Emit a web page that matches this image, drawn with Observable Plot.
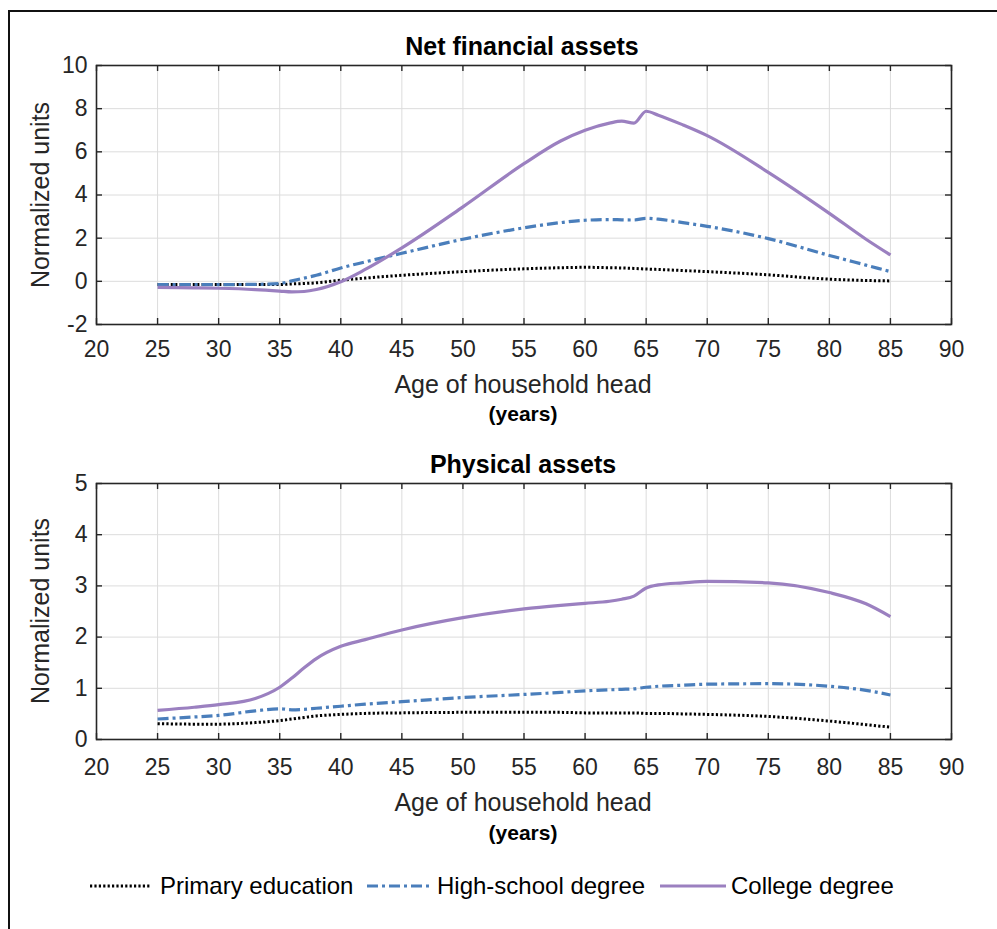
<!DOCTYPE html>
<html>
<head>
<meta charset="utf-8">
<script src="https://cdn.jsdelivr.net/npm/d3@7"></script>
<script src="https://cdn.jsdelivr.net/npm/@observablehq/plot@0.6"></script>
<style>
  body { margin: 0; background: #fff; font-family: "Liberation Sans", Arial, Helvetica, sans-serif; }
  #wrap { position: relative; width: 997px; height: 929px; overflow: hidden; background: #fff; }
  .abs { position: absolute; white-space: nowrap; line-height: 1; }
  .c { transform: translate(-50%, -50%); }
  .title { font-weight: bold; font-size: 25px; color: #000; }
  .xlab { font-size: 25px; color: #262626; }
  .unit { font-weight: bold; font-size: 21px; color: #000; }
  .ylab { font-size: 25px; color: #262626; transform: translate(-50%, -50%) rotate(-90deg); }
  .leg { font-size: 24px; color: #000; transform: translateY(-50%); }
  #border { position: absolute; left: 8px; top: 10px; width: 1000px; height: 1000px; border-left: 2px solid #111; border-top: 2px solid #111; }
  .panel { position: absolute; left: 0; }
</style>
</head>
<body>
<div id="wrap">
  <div id="border"></div>
  <div class="panel" id="p1" style="top:0px"></div>
  <div class="panel" id="p2" style="top:418px"></div>

  <div class="abs c title" style="left:522px; top:46px">Net financial assets</div>
  <div class="abs c xlab" style="left:523px; top:384px">Age of household head</div>
  <div class="abs c unit" style="left:523px; top:413px">(years)</div>
  <div class="abs ylab" style="left:40px; top:195px">Normalized units</div>

  <div class="abs c title" style="left:523px; top:464px">Physical assets</div>
  <div class="abs c xlab" style="left:523px; top:802px">Age of household head</div>
  <div class="abs c unit" style="left:523px; top:832px">(years)</div>
  <div class="abs ylab" style="left:40px; top:611px">Normalized units</div>

  <div id="legend"></div>
</div>
<script>
// ---- data ----
const seriesNames = ["Primary education", "High-school degree", "College degree"];
const ages = [25, 28, 30, 33, 35, 36, 37, 38, 40, 42, 45, 50, 55, 58, 60, 62, 63, 64, 65, 66, 68, 70, 75, 80, 83, 85];

// Net financial assets
const finPrimary = [-0.15, -0.15, -0.15, -0.15, -0.15, -0.12, -0.10, -0.07, 0.05, 0.15, 0.28, 0.45, 0.58, 0.63, 0.65, 0.63, 0.62, 0.60, 0.57, 0.55, 0.50, 0.45, 0.30, 0.10, 0.04, 0.02];
const finHigh    = [-0.15, -0.15, -0.15, -0.14, -0.10, 0.02, 0.15, 0.28, 0.62, 0.90, 1.30, 1.95, 2.48, 2.72, 2.83, 2.86, 2.85, 2.84, 2.92, 2.88, 2.72, 2.55, 1.98, 1.20, 0.75, 0.45];
const finCollege = [-0.28, -0.30, -0.32, -0.38, -0.45, -0.49, -0.47, -0.38, -0.02, 0.55, 1.55, 3.45, 5.45, 6.50, 7.00, 7.33, 7.42, 7.33, 7.88, 7.70, 7.25, 6.75, 5.05, 3.15, 1.95, 1.22];

// Physical assets
const phyPrimary = [0.31, 0.30, 0.30, 0.33, 0.37, 0.40, 0.43, 0.46, 0.49, 0.51, 0.52, 0.53, 0.53, 0.53, 0.52, 0.52, 0.52, 0.52, 0.51, 0.51, 0.50, 0.49, 0.45, 0.36, 0.29, 0.24];
const phyHigh    = [0.40, 0.44, 0.47, 0.56, 0.60, 0.58, 0.59, 0.61, 0.65, 0.69, 0.74, 0.82, 0.88, 0.92, 0.95, 0.97, 0.98, 0.99, 1.02, 1.04, 1.06, 1.08, 1.09, 1.04, 0.96, 0.87];
const phyCollege = [0.57, 0.63, 0.68, 0.80, 1.02, 1.20, 1.40, 1.58, 1.82, 1.95, 2.14, 2.38, 2.55, 2.62, 2.66, 2.70, 2.74, 2.80, 2.96, 3.02, 3.06, 3.09, 3.06, 2.87, 2.65, 2.40];

const xTicks = [20, 25, 30, 35, 40, 45, 50, 55, 60, 65, 70, 75, 80, 85, 90];
const finTicks = [-2, 0, 2, 4, 6, 8, 10];
const phyTicks = [0, 1, 2, 3, 4, 5];

// ---- styles ----
const styles = {
  "Primary education": {stroke: "#000000", strokeWidth: 3, strokeDasharray: "2.2,2.2"},
  "High-school degree": {stroke: "#4a7ebb", strokeWidth: 3.2, strokeDasharray: "11,4,3,4"},
  "College degree": {stroke: "#9b80c0", strokeWidth: 3.2, strokeDasharray: null}
};

function toRows(vals, name) { return ages.map((a, i) => ({age: a, value: vals[i], series: name})); }

const W = 997, ML = 96, MR = 46, MT = 65;
const TICK = 6;

function panel(yDomain, yTicks, seriesVals, height, marginBottom, xPad) {
  const fw = W - ML - MR;
  const fh = height - MT - marginBottom;
  const lines = seriesVals.map((vals, k) => {
    const name = seriesNames[k];
    const st = styles[name];
    return Plot.line(toRows(vals, name), {
      x: "age", y: "value", curve: "monotone-x",
      stroke: st.stroke, strokeWidth: st.strokeWidth,
      strokeDasharray: st.strokeDasharray, strokeLinecap: "butt"
    });
  });
  const fmt = d => String(d);
  return Plot.plot({
    width: W, height, marginLeft: ML, marginRight: MR, marginTop: MT, marginBottom,
    x: {domain: [20, 90]},
    y: {domain: yDomain},
    style: {fontFamily: "'Liberation Sans', Arial, sans-serif", fontSize: "23px", color: "#262626", background: "transparent"},
    marks: [
      Plot.gridX(xTicks, {stroke: "#dcdcdc", strokeOpacity: 1, strokeWidth: 1}),
      Plot.gridY(yTicks, {stroke: "#dcdcdc", strokeOpacity: 1, strokeWidth: 1}),
      ...lines,
      // inward tick marks (MATLAB style) on all four sides
      Plot.ruleX(xTicks, {x: d => d, insetTop: fh - TICK, stroke: "#262626", strokeWidth: 1.4}),
      Plot.ruleX(xTicks, {x: d => d, insetBottom: fh - TICK, stroke: "#262626", strokeWidth: 1.4}),
      Plot.ruleY(yTicks, {y: d => d, insetRight: fw - TICK, stroke: "#262626", strokeWidth: 1.4}),
      Plot.ruleY(yTicks, {y: d => d, insetLeft: fw - TICK, stroke: "#262626", strokeWidth: 1.4}),
      Plot.frame({stroke: "#262626", strokeWidth: 1.6}),
      Plot.axisX(xTicks, {anchor: "bottom", tickSize: 0, tickPadding: xPad, tickFormat: fmt, label: null, fill: "#262626"}),
      Plot.axisY(yTicks, {anchor: "left", tickSize: 0, tickPadding: 9, tickFormat: fmt, label: null, fill: "#262626"})
    ]
  });
}

document.getElementById("p1").appendChild(panel([-2, 10], finTicks, [finPrimary, finHigh, finCollege], 370, 46, 16));
document.getElementById("p2").appendChild(panel([0, 5], phyTicks, [phyPrimary, phyHigh, phyCollege], 370, 49, 19));

// ---- legend ----
const legendPos = [
  {sx: 90, sw: 60, tx: 160},
  {sx: 367, sw: 63, tx: 437},
  {sx: 660, sw: 66, tx: 731}
];
const legendY = 886;
const wrap = document.getElementById("wrap");
seriesNames.forEach((name, i) => {
  const st = styles[name];
  const p = legendPos[i];
  const ns = "http://www.w3.org/2000/svg";
  const svg = document.createElementNS(ns, "svg");
  svg.setAttribute("width", p.sw);
  svg.setAttribute("height", 10);
  svg.style.position = "absolute";
  svg.style.left = p.sx + "px";
  svg.style.top = (legendY - 5) + "px";
  const ln = document.createElementNS(ns, "line");
  ln.setAttribute("x1", 0); ln.setAttribute("x2", p.sw);
  ln.setAttribute("y1", 5); ln.setAttribute("y2", 5);
  ln.setAttribute("stroke", st.stroke);
  ln.setAttribute("stroke-width", st.strokeWidth);
  if (st.strokeDasharray) ln.setAttribute("stroke-dasharray", st.strokeDasharray);
  svg.appendChild(ln);
  wrap.appendChild(svg);
  const t = document.createElement("div");
  t.className = "abs leg";
  t.style.left = p.tx + "px";
  t.style.top = legendY + "px";
  t.textContent = name;
  wrap.appendChild(t);
});
</script>
</body>
</html>
